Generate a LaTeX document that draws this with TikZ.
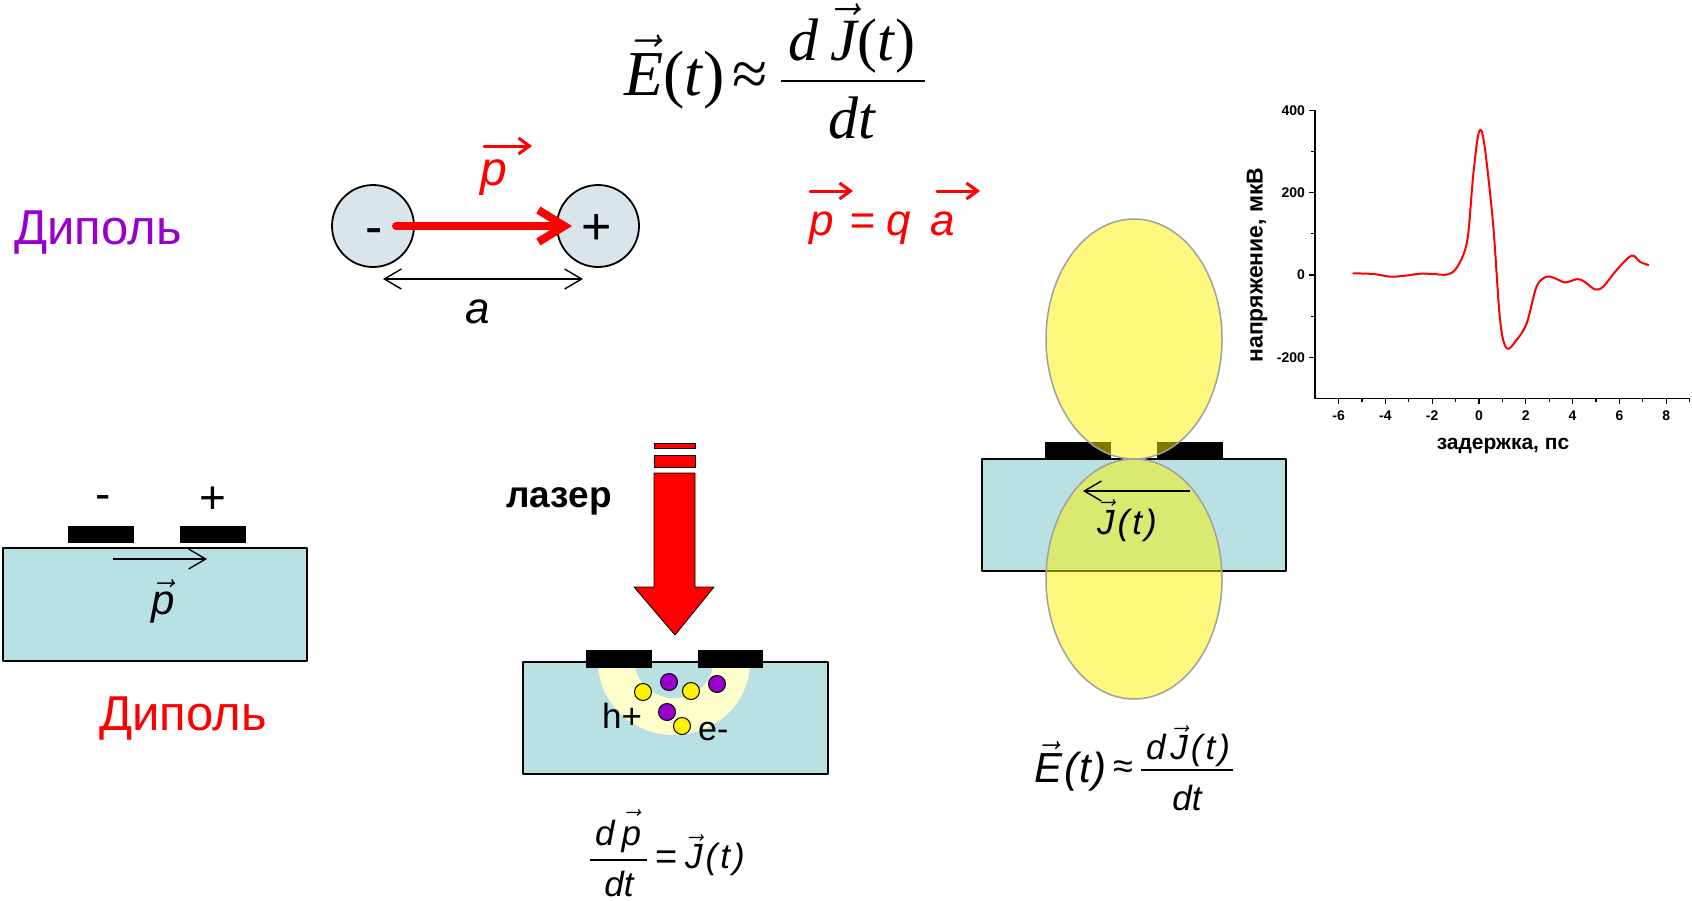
\RequirePackage{fix-cm}
\documentclass[tikz,border=0pt]{standalone}
\usepackage{fontspec}
\setmainfont{Liberation Sans}
\newfontfamily\serif{Liberation Serif}
\usetikzlibrary{arrows.meta}

\definecolor{subst}{RGB}{185,224,226}
\definecolor{ballfill}{RGB}{218,228,235}
\definecolor{paleyel}{RGB}{255,255,204}
\definecolor{dipviolet}{RGB}{153,0,204}
\definecolor{holecol}{RGB}{153,0,204}
\definecolor{lobegray}{RGB}{160,160,160}

\newcommand\fsz[1]{\fontsize{#1}{#1}\selectfont}
\newcommand\tv[1]{\ensuremath{\vec{\mbox{#1}}}}

\begin{document}
\begin{tikzpicture}[x=1pt,y=-1pt,line join=round,
  substrate/.style={draw=black,line width=1.8pt,fill=subst},
  electrode/.style={fill=black},
  thinarrow/.style={line width=1.4pt,-{Straight Barb[length=17pt,width=20pt]}},
  vecarrow/.style={red,line width=3pt,line cap=round,-{Straight Barb[length=11pt,width=16pt]}},
  lobe/.style={fill=yellow,fill opacity=0.5,draw=lobegray,line width=1.5pt},
  charge/.style={circle,draw=black,line width=1.8pt,fill=ballfill,minimum size=82pt,inner sep=0pt},
  carrier/.style={circle,draw=black,line width=1pt,minimum size=17pt,inner sep=0pt},
  txt/.style={inner sep=0pt},
  formula/.style={inner sep=0pt,font=\itshape\fsz{35}},
  fracbar/.style={line width=1.5pt},
  ticklbl/.style={inner sep=0pt,font=\bfseries\fsz{14}}]

\fill[white] (0,0) rectangle (1692,900);
\useasboundingbox (0,0) rectangle (1692,900);

% ---------- headline formula: E(t) ~ dJ/dt ----------
\node[txt,font=\serif\fsz{64},anchor=base west] (topE) at (624,95)
  {\tv{\itshape E}(\textit{t})\hspace{8pt}≈};
\node[txt,font=\serif\fsz{60},anchor=base] (topnum) at (852,60)
  {\textit{d}\hspace{12pt}\tv{\itshape J}(\textit{t})};
\coordinate (topbarL) at (781,81);
\coordinate (topbarR) at (925,81);
\draw[line width=2pt] (topbarL) -- (topbarR);
\node[txt,font=\serif\fsz{60},anchor=base] (topden) at (852,138) {\textit{dt}};

% ---------- free dipole ----------
\node[txt,font=\fsz{49},text=dipviolet,anchor=base west] (dipA) at (14,244) {Диполь};

\node[charge] (neg) at (373,226) {};
\node[charge] (pos) at (598,226) {};
\node[txt,font=\fsz{52},anchor=base] (negsign) at (374,244) {-};
\node[txt,font=\fsz{52},anchor=base] (possign) at (597,244) {+};
\draw[red,line width=8pt,line cap=round,-{Straight Barb[length=26pt,width=32pt]}]
  ([xshift=23pt]neg.center) -- ([xshift=-26pt]pos.center);

\node[txt,font=\itshape\fsz{48},text=red,anchor=base] (pdip) at (494,185) {p};
\coordinate (pdipA) at (484,146);
\coordinate (pdipB) at (532,146);
\draw[vecarrow] (pdipA) -- (pdipB);

\coordinate (gapL) at (383,279);
\coordinate (gapR) at (583,279);
\draw[line width=1.4pt,{Straight Barb[length=17pt,width=20pt]}-{Straight Barb[length=17pt,width=20pt]}] (gapL) -- (gapR);
\node[txt,font=\itshape\fsz{44},anchor=base] (alabel) at (478,323) {a};

\node[txt,font=\itshape\fsz{44},text=red,anchor=base west] (pqa) at (809,235)
  {p\hspace{16pt}=\hspace{11pt}q\hspace{20pt}a};
\coordinate (vpA) at (810,191);
\coordinate (vpB) at (853,191);
\coordinate (vaA) at (937,191);
\coordinate (vaB) at (980,191);
\draw[vecarrow] (vpA) -- (vpB);
\draw[vecarrow] (vaA) -- (vaB);

% ---------- antenna with static dipole ----------
\draw[substrate] (3,548) rectangle (307,661);
\fill[electrode] (68,526) rectangle (134,543);
\fill[electrode] (180,526) rectangle (246,543);
\node[txt,font=\fsz{46},anchor=base] (lminus) at (103,509) {-};
\node[txt,font=\fsz{46},anchor=base] (lplus) at (213,513) {+};
\coordinate (lpA) at (113,559);
\coordinate (lpB) at (207,559);
\draw[thinarrow] (lpA) -- (lpB);
\node[txt,font=\itshape\fsz{42},anchor=base] (lp) at (163,614) {\tv{p}};
\node[txt,font=\fsz{49},text=red,anchor=base west] (dipB) at (99,730) {Диполь};

% ---------- photoexcited antenna ----------
\fill[subst] (523,662) rectangle (828,774);
\begin{scope}
  \clip (523,662) rectangle (828,774);
  \fill[paleyel] (674,662) ellipse [x radius=76,y radius=73];
  \fill[subst] (674,662) ellipse [x radius=39,y radius=36];
\end{scope}
\draw[line width=1.8pt] (523,662) rectangle (828,774);
\fill[electrode] (586,650) rectangle (652,668);
\fill[electrode] (698,650) rectangle (763,668);

\node[carrier,fill=yellow] (c1) at (643,692) {};
\node[carrier,fill=holecol] (c2) at (669,682) {};
\node[carrier,fill=yellow] (c3) at (691,691) {};
\node[carrier,fill=holecol] (c4) at (717,684) {};
\node[carrier,fill=holecol] (c5) at (667,712) {};
\node[carrier,fill=yellow] (c6) at (682,726) {};
\node[txt,font=\fsz{35},anchor=base west] (hplus) at (602,728) {h+};
\node[txt,font=\fsz{34},anchor=base west] (eminus) at (698,740) {e-};

% laser beam
\filldraw[fill=red,draw=black,line width=0.8pt] (654,443) rectangle (695,448);
\filldraw[fill=red,draw=black,line width=0.8pt] (654,455) rectangle (695,467);
\filldraw[fill=red,draw=black,line width=0.8pt]
  (654,473) -- (695,473) -- (695,587) -- (714,587) -- (675,635) -- (634,587) -- (654,587) -- cycle;
\node[txt,font=\bfseries\fsz{37},anchor=base west] (laser) at (506,507) {лазер};

% dp/dt = J(t)
\node[formula,anchor=base] (dpnum) at (618,845) {d\hspace{7pt}\tv{\vphantom{d}p}};
\coordinate (dpbarL) at (590,860);
\coordinate (dpbarR) at (647,860);
\draw[fracbar] (dpbarL) -- (dpbarR);
\node[formula,anchor=base] (dpden) at (619,896) {dt};
\node[txt,font=\fsz{38}] (dpeq) at (667,860) {=};
\node[formula,anchor=base west] (dpJ) at (685,868) {\tv{J}\hspace{3pt}(\hspace{3pt}t\hspace{3pt})};

% ---------- radiating antenna ----------
\draw[substrate] (982,459) rectangle (1286,571);
\fill[electrode] (1045,442) rectangle (1111,459);
\fill[electrode] (1157,442) rectangle (1223,459);
\draw[lobe] (1134,339) ellipse [x radius=88,y radius=120];
\draw[lobe] (1134,579) ellipse [x radius=88,y radius=120];
\coordinate (jA) at (1190,491);
\coordinate (jB) at (1083,491);
\draw[thinarrow] (jA) -- (jB);
\node[formula,anchor=base west] (jlabel) at (1097,534) {\tv{J}\hspace{3pt}(\hspace{3pt}t\hspace{3pt})};

% E(t) ~ dJ/dt
\node[txt,font=\itshape\fsz{42},anchor=base west] (fieldE) at (1034,782)
  {\tv{E}\hspace{2pt}(\hspace{1pt}t\hspace{2pt})};
\node[txt,font=\fsz{36}] (fieldapprox) at (1123,770) {≈};
\node[formula,anchor=base] (fieldnum) at (1188,759)
  {d\hspace{5pt}\tv{J}\hspace{3pt}(\hspace{3pt}t\hspace{3pt})};
\coordinate (fbarL) at (1141,770);
\coordinate (fbarR) at (1233,770);
\draw[fracbar] (fbarL) -- (fbarR);
\node[formula,anchor=base] (fieldden) at (1187,810) {dt};

% ---------- measured waveform ----------
\begin{scope}[shift={(1479,275)},x=23.4pt,y=0.4115pt]
  \draw[line width=1.5pt] (-7,400) -- (-7,-300) -- (9,-300);
  \foreach \v in {-5,-3,...,9} \draw[line width=1.2pt] (\v,-300) -- ++(0pt,-4pt);
  \foreach \v [count=\i] in {-6,-4,...,8} {
    \draw[line width=1.2pt] (\v,-300) -- ++(0pt,-6pt);
    \node[ticklbl,anchor=north,yshift=-12pt] (xt\i) at (\v,-300) {\v};
  }
  \foreach \v in {-100,100,300} \draw[line width=1.2pt] (-7,\v) -- ++(-4pt,0pt);
  \foreach \v [count=\i] in {-200,0,200,400} {
    \draw[line width=1.2pt] (-7,\v) -- ++(-6pt,0pt);
    \node[ticklbl,anchor=east,xshift=-10pt] (yt\i) at (-7,\v) {\v};
  }
  \draw[red,line width=2pt] plot[smooth,tension=0.55] coordinates {
    (-5.4,4) (-4.5,2.4) (-3.8,-4) (-3.2,-2) (-2.5,3.2) (-1.95,2.4) (-1.4,0.8)
    (-1.03,12) (-0.67,49) (-0.46,101) (-0.24,247) (0,348) (0.22,320)
    (0.6,125) (0.9,-109) (1.18,-178) (1.6,-158) (2.04,-117) (2.46,-28)
    (2.89,-4) (3.25,-8) (3.68,-18) (4.2,-10) (4.5,-16) (4.96,-35) (5.31,-28)
    (5.88,12) (6.52,47) (6.88,32) (7.26,24)};
\end{scope}
\node[txt,font=\bfseries\fsz{21}] (xtitle) at (1503,446) {задержка, пс};
\node[txt,font=\bfseries\fsz{23},rotate=90] (ytitle) at (1257,265) {напряжение, мкВ};

\end{tikzpicture}
\end{document}
